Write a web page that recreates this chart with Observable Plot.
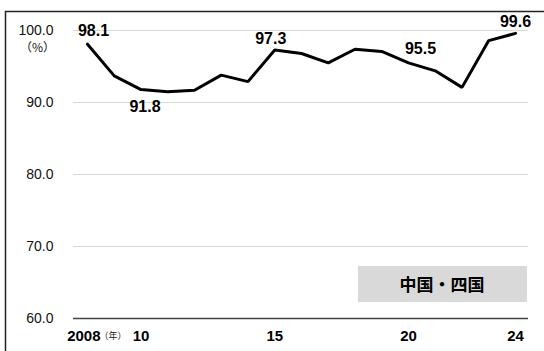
<!DOCTYPE html>
<html>
<head>
<meta charset="utf-8">
<script src="https://cdn.jsdelivr.net/npm/d3@7"></script>
<script src="https://cdn.jsdelivr.net/npm/@observablehq/plot@0.6"></script>
<style>
  html, body { margin: 0; padding: 0; background: #fff; }
  #chart { width: 544px; height: 351px; }
  svg { display: block; font-family: "Liberation Sans", Arial, sans-serif; }
</style>
</head>
<body>
<div id="chart"></div>
<script>
// Annual values (%), 2008–2024
const years = [2008, 2009, 2010, 2011, 2012, 2013, 2014, 2015, 2016, 2017, 2018, 2019, 2020, 2021, 2022, 2023, 2024];
const values = [98.1, 93.7, 91.8, 91.5, 91.7, 93.8, 92.9, 97.3, 96.8, 95.5, 97.4, 97.1, 95.5, 94.4, 92.1, 98.6, 99.6];

// Points that carry a value label
const labelYears = [2008, 2010, 2015, 2020, 2024];

// Axis ticks
const yTicks = [60, 70, 80, 90, 100];
const xTicks = [2008, 2010, 2015, 2020, 2024];
const xTickText = ["2008", "10", "15", "20", "24"];
const legendText = "中国・四国";

const data = years.map((year, i) => ({year, value: values[i]}));
// label offsets (dx, dy), keyed by year
const labelOffsets = {2008: [6, -13], 2010: [4, 17], 2015: [-4, -11], 2020: [12, -14], 2024: [0, -12]};
const xTickRows = xTicks.map((year, i) => ({year, text: xTickText[i]}));

const valueLabels = labelYears.map(year => {
  const [dx, dy] = labelOffsets[year];
  return Plot.text(data.filter(d => d.year === year), {
    x: "year", y: "value", text: d => d.value.toFixed(1), dx, dy,
    fontSize: 16, fontWeight: "bold", fill: "#000"
  });
});

const chart = Plot.plot({
  width: 544,
  height: 351,
  marginLeft: 73,
  marginRight: 16,
  marginTop: 30,
  marginBottom: 33,
  x: {domain: [2008, 2024], insetLeft: 14, insetRight: 13, axis: null},
  y: {domain: [60, 100], axis: null},
  marks: [
    Plot.ruleY(yTicks.filter(v => v > 60), {stroke: "#d9d9d9", strokeWidth: 1}),
    Plot.ruleY([60], {stroke: "#444", strokeWidth: 1.5}),
    Plot.text(yTicks, {
      y: d => d, frameAnchor: "left", dx: -20, textAnchor: "end",
      text: d => d.toFixed(1), fontSize: 14, fill: "#111"
    }),
    Plot.text(["（%）"], {
      y: [100], frameAnchor: "left", dx: -36, dy: 18, textAnchor: "middle",
      text: d => d, fontSize: 12, fill: "#111",
      fontFamily: "'Noto Sans CJK JP', sans-serif"
    }),
    Plot.line(data, {x: "year", y: "value", stroke: "#000", strokeWidth: 3, strokeLinejoin: "miter"}),
    ...valueLabels,
    // bottom tick labels
    Plot.text(xTickRows.filter(d => d.year !== 2008), {
      x: "year", frameAnchor: "bottom", lineAnchor: "middle", dy: 18, text: "text",
      fontSize: 15, fontWeight: "bold", fill: "#000"
    }),
    Plot.text(xTickRows.filter(d => d.year === 2008), {
      x: "year", frameAnchor: "bottom", lineAnchor: "middle", dy: 18, dx: 13, textAnchor: "end", text: "text",
      fontSize: 15, fontWeight: "bold", fill: "#000"
    }),
    Plot.text(["（年）"], {
      x: [2008], frameAnchor: "bottom", lineAnchor: "middle", dy: 18, dx: 12, textAnchor: "start", text: d => d,
      fontSize: 9, fill: "#222", fontFamily: "'Noto Sans CJK JP', sans-serif"
    })
  ]
});

document.getElementById("chart").appendChild(chart);

// Outer frame (top and left edges) and the region legend box
const svg = d3.select(chart);
svg.insert("path", ":first-child")
  .attr("d", "M5.5,351V11.5H544")
  .attr("fill", "none")
  .attr("stroke", "#222")
  .attr("stroke-width", 1.5);
const legend = svg.append("g");
legend.append("rect")
  .attr("x", 358).attr("y", 266).attr("width", 169).attr("height", 36)
  .attr("fill", "#d9d9d9");
legend.append("text")
  .attr("x", 442).attr("y", 285).attr("dy", "0.35em")
  .attr("text-anchor", "middle")
  .attr("font-family", "'Noto Sans CJK JP', sans-serif")
  .attr("font-weight", "bold").attr("font-size", 17)
  .attr("fill", "#000")
  .text(legendText);
</script>
</body>
</html>
